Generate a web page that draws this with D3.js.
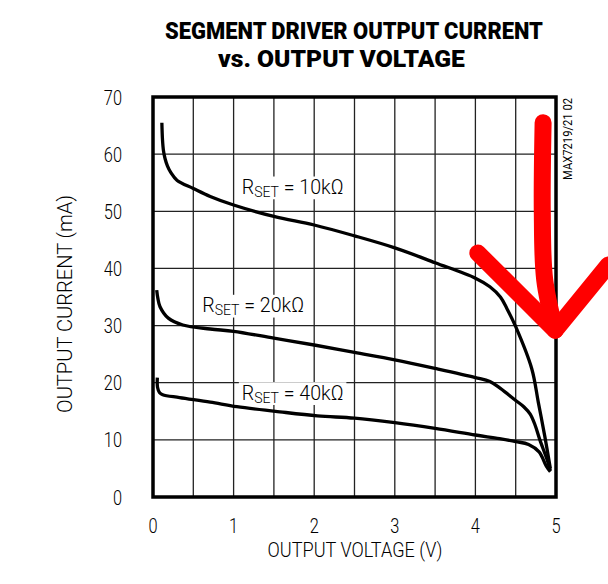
<!DOCTYPE html>
<html>
<head>
<meta charset="utf-8">
<script src="https://cdn.jsdelivr.net/npm/d3@7"></script>
<style>
  html, body { margin: 0; padding: 0; background: #fff; }
  svg { display: block; }
  text { font-family: Roboto, "Liberation Sans", "DejaVu Sans", sans-serif; }
</style>
</head>
<body>
<script>
// ---- data ----
const xTicks = [0, 1, 2, 3, 4, 5];
const yTicks = [0, 10, 20, 30, 40, 50, 60, 70];
const xGrid = [0.5, 1, 1.5, 2, 2.5, 3, 3.5, 4, 4.5];
const yGrid = [10, 20, 30, 40, 50, 60];

const volt10k = [0.11, 0.118, 0.13, 0.15, 0.18, 0.22, 0.3, 0.5, 0.71, 1.0, 1.5, 2.0, 2.5, 3.0, 3.5, 4.0, 4.18, 4.31, 4.39, 4.5, 4.7, 4.78, 4.86, 4.93];
const curr10k = [65.5, 62.5, 60.6, 59.2, 57.9, 56.8, 55.4, 54.0, 52.6, 51.1, 49.1, 47.6, 45.7, 43.6, 41.0, 38.3, 36.8, 35.0, 33.0, 29.8, 22.4, 16.6, 10.7, 5.0];

const volt20k = [0.046, 0.06, 0.087, 0.19, 0.37, 0.71, 1.0, 1.5, 2.0, 2.5, 3.0, 3.5, 4.0, 4.18, 4.31, 4.5, 4.6, 4.68, 4.74, 4.8, 4.89, 4.93];
const curr20k = [36.2, 34.8, 33.3, 31.3, 30.1, 29.4, 29.0, 27.8, 26.6, 25.3, 24.0, 22.5, 20.9, 20.2, 19.0, 16.9, 15.8, 14.5, 12.6, 10.0, 6.5, 4.6];

const volt40k = [0.054, 0.056, 0.08, 0.12, 0.33, 0.71, 1.04, 1.52, 2.04, 2.5, 3.0, 3.5, 4.0, 4.3, 4.5, 4.66, 4.79, 4.88, 4.93];
const curr40k = [20.9, 19.2, 18.3, 17.9, 17.4, 16.6, 15.8, 15.0, 14.2, 13.8, 13.0, 12.0, 10.85, 10.2, 9.7, 9.2, 7.9, 5.4, 4.4];

const seriesNames = ["10k\u03A9", "20k\u03A9", "40k\u03A9"];
// label anchor positions in data units (V, mA) for the R_SET labels
const labelV = [1.1, 0.61, 1.1];
const labelMA = [53.0, 32.3, 17.0];

// red hand-drawn arrow annotation, in data units
const arrowShaftV = [4.84, 4.83, 4.86, 4.99];
const arrowShaftMA = [65.5, 49.7, 38.0, 29.2];
const arrowBarbV = [4.03, 4.99, 5.65];
const arrowBarbMA = [42.7, 29.2, 40.6];

// ---- layout ----
const W = 608, H = 584;
const svg = d3.select("body").append("svg").attr("width", W).attr("height", H);

const x = d3.scaleLinear().domain([0, 5]).range([153, 556]);
const y = d3.scaleLinear().domain([0, 70]).range([497, 97]);

// condensed text helper: fixed horizontal scale or fitted to a target width
function condText(parent, px, py, str, o) {
  const g = parent.append("g");
  const t = g.append("text")
    .attr("text-anchor", o.anchor || "start")
    .attr("font-size", o.size)
    .attr("font-weight", o.weight || 300)
    .attr("fill", "#000")
    .text(str);
  if (o.dy) t.attr("dy", o.dy);
  let sx = o.sx || 0.78;
  if (o.width) sx = o.width / t.node().getComputedTextLength();
  g.attr("transform", `translate(${px},${py}) rotate(${o.rotate || 0}) scale(${sx},1)`);
  return g;
}

// gridlines
const grid = svg.append("g").attr("stroke", "#222").attr("stroke-width", 1.3);
grid.selectAll("line.v").data(xGrid).join("line")
  .attr("x1", d => x(d)).attr("x2", d => x(d))
  .attr("y1", y(0)).attr("y2", y(70));
grid.selectAll("line.h").data(yGrid).join("line")
  .attr("y1", d => y(d)).attr("y2", d => y(d))
  .attr("x1", x(0)).attr("x2", x(5));

// curves
const series = [
  volt10k.map((v, i) => [v, curr10k[i]]),
  volt20k.map((v, i) => [v, curr20k[i]]),
  volt40k.map((v, i) => [v, curr40k[i]])
];
const line = d3.line().x(d => x(d[0])).y(d => y(d[1])).curve(d3.curveCatmullRom.alpha(0.5));
svg.append("g").selectAll("path").data(series).join("path")
  .attr("d", line).attr("fill", "none").attr("stroke", "#000")
  .attr("stroke-width", 3.3).attr("stroke-linejoin", "round").attr("stroke-linecap", "butt");

// curve labels with white backgrounds
const labG = svg.append("g");
seriesNames.forEach((name, i) => {
  const g = labG.append("g");
  const t = g.append("text")
    .attr("font-size", 21).attr("font-weight", 300).attr("fill", "#000");
  t.append("tspan").text("R");
  t.append("tspan").attr("font-size", 15).attr("dy", 3).text("SET");
  t.append("tspan").attr("dy", -3).text(" = " + name);
  const sx = 102 / t.node().getComputedTextLength();
  g.attr("transform", `translate(${x(labelV[i])},${y(labelMA[i])}) scale(${sx},1)`);
  const bb = t.node().getBBox();
  g.insert("rect", "text")
    .attr("x", bb.x - 3).attr("y", bb.y + 2)
    .attr("width", bb.width + 6).attr("height", bb.height - 4)
    .attr("fill", "#fff");
});

// frame
svg.append("rect")
  .attr("x", x(0)).attr("y", y(70))
  .attr("width", x(5) - x(0)).attr("height", y(0) - y(70))
  .attr("fill", "none").attr("stroke", "#000").attr("stroke-width", 3.5);

// tick labels
const yt = svg.append("g");
yTicks.forEach(d => condText(yt, 122, y(d), d, { size: 21, anchor: "end", dy: "0.36em", sx: 0.78 }));
const xt = svg.append("g");
xTicks.forEach(d => condText(xt, x(d), 533, d, { size: 21, anchor: "middle", sx: 0.78 }));

// axis titles
condText(svg, 72, 304, "OUTPUT CURRENT (mA)", { size: 21, anchor: "middle", rotate: -90, width: 218 });
condText(svg, 355, 557, "OUTPUT VOLTAGE (V)", { size: 21, anchor: "middle", width: 175 });

// chart title (two lines)
const titleLines = ["SEGMENT DRIVER OUTPUT CURRENT", "vs. OUTPUT VOLTAGE"];
condText(svg, 354, 39, titleLines[0], { size: 23, anchor: "middle", weight: 900, width: 378 });
condText(svg, 341.5, 66.5, titleLines[1], { size: 23, anchor: "middle", weight: 900, width: 247 });

// side code
condText(svg, 572, 98, "MAX7219/21 02", { size: 12, anchor: "end", rotate: -90, width: 82, weight: 400 });

// red arrow annotation
const arrowLine = d3.line().x(d => x(d[0])).y(d => y(d[1])).curve(d3.curveCatmullRom);
const arrowG = svg.append("g").attr("fill", "none").attr("stroke", "#f00")
  .attr("stroke-width", 17).attr("stroke-linecap", "round").attr("stroke-linejoin", "round");
arrowG.append("path").attr("d", arrowLine(arrowShaftV.map((v, i) => [v, arrowShaftMA[i]])));
arrowG.append("path").attr("d", d3.line().x(d => x(d[0])).y(d => y(d[1]))(arrowBarbV.map((v, i) => [v, arrowBarbMA[i]])));
</script>
</body>
</html>
